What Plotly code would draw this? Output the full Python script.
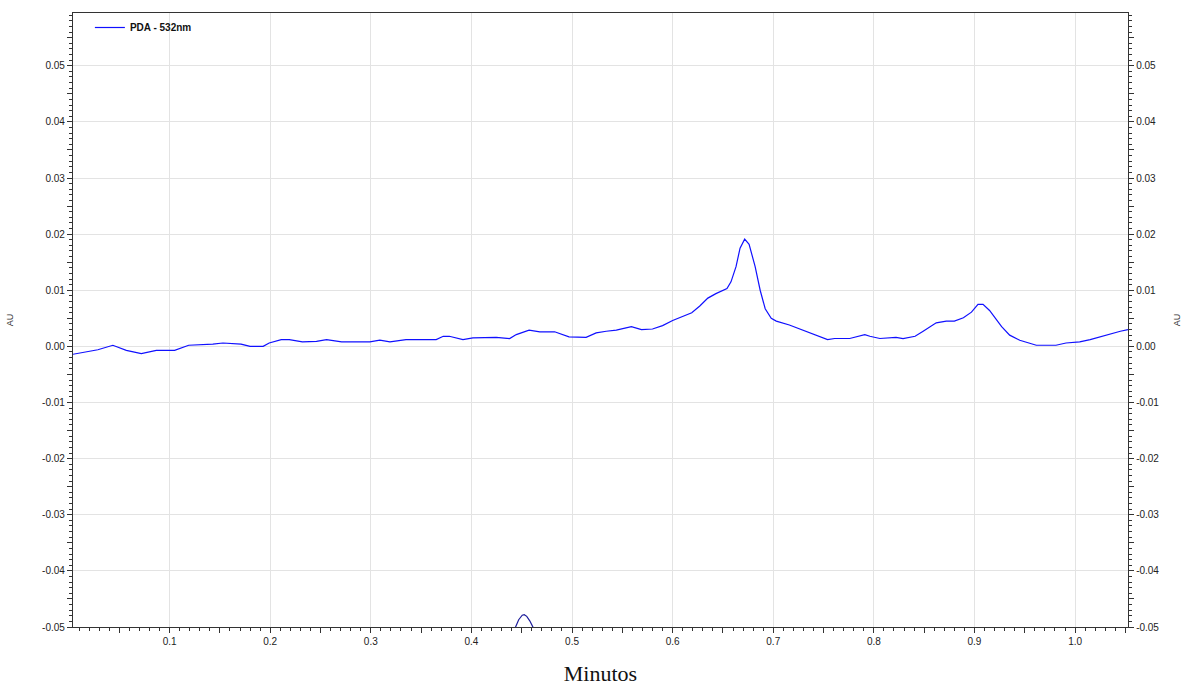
import plotly.graph_objects as go

# PDA chromatogram at 532 nm: retention time (min) vs absorbance (AU)
time_min = [
    0.004, 0.0287, 0.0436, 0.057, 0.0719, 0.0868, 0.105, 0.119, 0.143, 0.153,
    0.171, 0.180, 0.193, 0.199, 0.211, 0.219, 0.232, 0.246, 0.256, 0.271,
    0.299, 0.309, 0.319, 0.335, 0.365, 0.372, 0.378, 0.3916, 0.4015, 0.4247,
    0.438, 0.4446, 0.4573, 0.468, 0.4827, 0.497, 0.514, 0.524, 0.534, 0.544,
    0.559, 0.569, 0.580, 0.590, 0.600, 0.609, 0.619, 0.627, 0.635, 0.643,
    0.654, 0.658, 0.663, 0.667, 0.6716, 0.676, 0.682, 0.687, 0.692, 0.698,
    0.703, 0.716, 0.728, 0.741, 0.754, 0.761, 0.776, 0.791, 0.796, 0.806,
    0.822, 0.829, 0.841, 0.849, 0.862, 0.872, 0.880, 0.889, 0.897, 0.9035,
    0.9085, 0.915, 0.922, 0.927, 0.935, 0.945, 0.9615, 0.981, 0.991, 1.0046,
    1.015, 1.030, 1.045, 1.0526,
]
absorbance_au = [
    -0.0014, -0.0006, 0.0002, -0.0007, -0.0013, -0.0007, -0.0007, 0.0002, 0.0004, 0.0006,
    0.0004, 0.0000, 0.0000, 0.0006, 0.0012, 0.0012, 0.0008, 0.0009, 0.0012, 0.0008,
    0.0008, 0.0011, 0.0008, 0.0012, 0.0012, 0.0018, 0.0018, 0.0012, 0.0015, 0.0016,
    0.0014, 0.0021, 0.0029, 0.0026, 0.0026, 0.0017, 0.0016, 0.0024, 0.0027, 0.0029,
    0.0035, 0.0030, 0.0031, 0.0037, 0.0046, 0.0052, 0.0060, 0.0072, 0.0086, 0.0094,
    0.0103, 0.0115, 0.0142, 0.0175, 0.0191, 0.0182, 0.0142, 0.0100, 0.0067, 0.0050,
    0.0045, 0.0038, 0.0030, 0.0020, 0.0012, 0.0014, 0.0014, 0.0021, 0.0018, 0.0014,
    0.0016, 0.0014, 0.0018, 0.0027, 0.0042, 0.0045, 0.0045, 0.0051, 0.0061, 0.0075,
    0.0075, 0.0064, 0.0048, 0.0035, 0.0020, 0.0011, 0.0002, 0.0002, 0.0006, 0.0008,
    0.0012, 0.0020, 0.0027, 0.0030,
]

# Secondary channel, only its apex reaches the bottom of the window
aux_time_min = [0.440, 0.4439, 0.447, 0.4505, 0.4525, 0.455, 0.458, 0.4611, 0.465]
aux_absorbance_au = [-0.0525, -0.0500, -0.0487, -0.0479, -0.0478, -0.0481, -0.0489, -0.0500, -0.0525]

x_tick_vals = [0.1, 0.2, 0.3, 0.4, 0.5, 0.6, 0.7, 0.8, 0.9, 1.0]
x_tick_text = ["0.1", "0.2", "0.3", "0.4", "0.5", "0.6", "0.7", "0.8", "0.9", "1.0"]
x_half_ticks = [0.05, 0.15, 0.25, 0.35, 0.45, 0.55, 0.65, 0.75, 0.85, 0.95, 1.05]
y_tick_vals = [-0.05, -0.04, -0.03, -0.02, -0.01, 0.0, 0.01, 0.02, 0.03, 0.04, 0.05]
y_tick_text = ["-0.05", "-0.04", "-0.03", "-0.02", "-0.01", "0.00", "0.01", "0.02", "0.03", "0.04", "0.05"]
y_half_ticks = [-0.045, -0.035, -0.025, -0.015, -0.005, 0.005, 0.015, 0.025, 0.035, 0.045, 0.055]

X_RANGE = [0.004, 1.0526]
Y_RANGE = [-0.05, 0.0594]

AXIS_COLOR = "#333333"
GRID_COLOR = "#e3e3e3"
TICK_FONT = dict(family="Liberation Sans, Arial, sans-serif", size=10, color="#222222")

fig = go.Figure()
# The secondary channel lives on the overlay axes so that they are rendered
fig.add_trace(go.Scatter(
    x=aux_time_min, y=aux_absorbance_au, mode="lines", xaxis="x2", yaxis="y2",
    line=dict(color="#1c1c9a", width=1.2), showlegend=False, hoverinfo="skip",
))
for extra_axis in ("y3", "y4"):
    fig.add_trace(go.Scatter(
        x=aux_time_min, y=aux_absorbance_au, mode="lines", xaxis="x", yaxis=extra_axis,
        line=dict(color="#1c1c9a", width=1.2), opacity=0, showlegend=False, hoverinfo="skip",
    ))
fig.add_trace(go.Scatter(
    x=time_min, y=absorbance_au, mode="lines", name="PDA - 532nm",
    line=dict(color="#1010ff", width=1.2),
))

fig.update_layout(
    width=1182, height=686,
    margin=dict(l=73, r=54, t=13, b=59),
    paper_bgcolor="white", plot_bgcolor="white",
    showlegend=True,
    legend=dict(
        x=0.016, y=1.0, xanchor="left", yanchor="top",
        bgcolor="rgba(0,0,0,0)", borderwidth=0,
        font=dict(family="Liberation Sans, Arial, sans-serif", size=10, color="#111111", weight="bold"),
        tracegroupgap=0,
    ),
    xaxis=dict(
        range=X_RANGE, tickvals=x_tick_vals, ticktext=x_tick_text,
        ticks="outside", ticklen=5, tickwidth=1, tickcolor=AXIS_COLOR,
        showgrid=True, gridcolor=GRID_COLOR, gridwidth=1, zeroline=False,
        showline=True, linecolor=AXIS_COLOR, linewidth=1.3, mirror=True,
        tickfont=TICK_FONT,
        minor=dict(dtick=0.01, tick0=0, ticks="outside", ticklen=3, tickcolor=AXIS_COLOR, showgrid=False),
        title=dict(text="Minutos", font=dict(family="Liberation Serif, Times New Roman, serif", size=22, color="#111111"), standoff=22),
        automargin=False,
    ),
    xaxis2=dict(
        matches="x", overlaying="x", side="bottom", anchor="y",
        tickvals=x_half_ticks, ticks="outside", ticklen=5, tickcolor=AXIS_COLOR,
        showticklabels=False, showgrid=False, showline=False, zeroline=False,
    ),
    yaxis=dict(
        range=Y_RANGE, tickvals=y_tick_vals, ticktext=y_tick_text,
        ticks="outside", ticklen=5, tickwidth=1, tickcolor=AXIS_COLOR,
        showgrid=True, gridcolor=GRID_COLOR, gridwidth=1, zeroline=False,
        showline=True, linecolor=AXIS_COLOR, linewidth=1.3,
        tickfont=TICK_FONT,
        minor=dict(dtick=0.001, tick0=0, ticks="outside", ticklen=3, tickcolor=AXIS_COLOR, showgrid=False),
        title=dict(text="AU", font=dict(family="Liberation Sans, Arial, sans-serif", size=9, color="#333333"), standoff=26),
        automargin=False,
    ),
    yaxis2=dict(
        matches="y", overlaying="y", side="right", anchor="x2",
        tickvals=y_tick_vals, ticktext=y_tick_text,
        ticks="outside", ticklen=5, tickwidth=1, tickcolor=AXIS_COLOR,
        showgrid=False, zeroline=False,
        showline=True, linecolor=AXIS_COLOR, linewidth=1.3,
        tickfont=TICK_FONT,
        minor=dict(dtick=0.001, tick0=0, ticks="outside", ticklen=3, tickcolor=AXIS_COLOR, showgrid=False),
        title=dict(text="AU", font=dict(family="Liberation Sans, Arial, sans-serif", size=9, color="#333333"), standoff=18),
        automargin=False,
    ),
    yaxis3=dict(
        matches="y", overlaying="y", side="left", anchor="x",
        tickvals=y_half_ticks, ticks="outside", ticklen=5, tickcolor=AXIS_COLOR,
        showticklabels=False, showgrid=False, showline=False, zeroline=False,
    ),
    yaxis4=dict(
        matches="y", overlaying="y", side="right", anchor="x",
        tickvals=y_half_ticks, ticks="outside", ticklen=5, tickcolor=AXIS_COLOR,
        showticklabels=False, showgrid=False, showline=False, zeroline=False,
    ),
)

fig.write_html("out.html")
